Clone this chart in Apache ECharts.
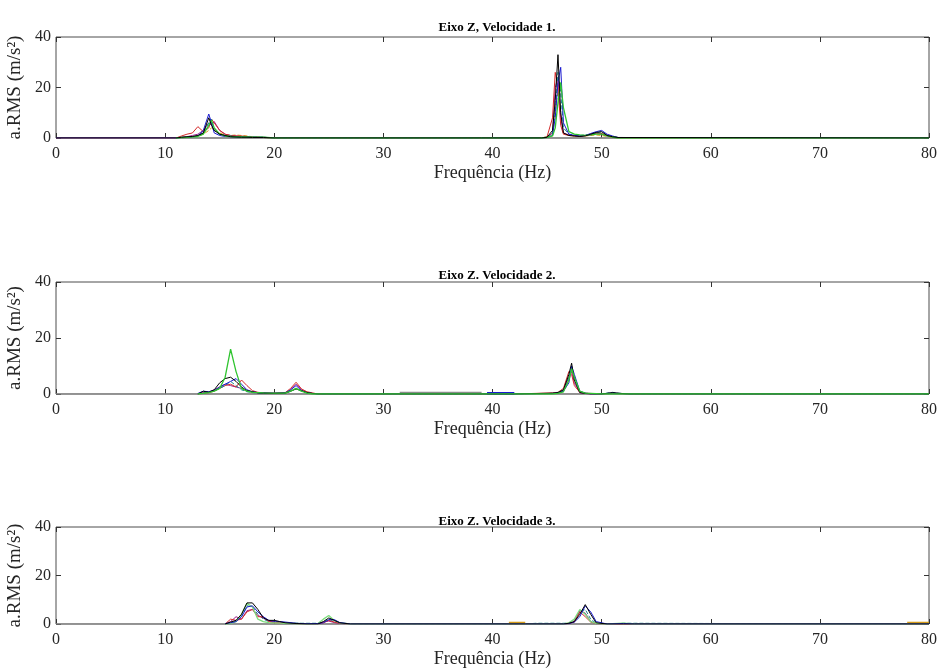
<!DOCTYPE html>
<html><head><meta charset="utf-8">
<script src="https://cdn.jsdelivr.net/npm/echarts@6/dist/echarts.min.js"></script>
<style>html,body{margin:0;padding:0;background:#fff}#c{width:944px;height:671px}</style>
</head><body><div id="c"></div>
<script>
// ---------- titles / tick values ----------
const titles = ["Eixo Z, Velocidade 1.", "Eixo Z. Velocidade 2.", "Eixo Z. Velocidade 3."];
const xTicks = [0, 10, 20, 30, 40, 50, 60, 70, 80];
const yTicks = [0, 20, 40];
const xName = "Frequência (Hz)";
const yName = "a.RMS (m/s²)";
const baseFreq = [0, 80];
const baseVal = [0, 0];

// ---------- panel 1 ----------
const freq1 = [0,11,11.5,12,12.5,13,13.5,14,14.25,14.5,15,15.5,16,16.5,17,17.5,18,19,20,39,40,44.5,45,45.5,45.75,46,46.25,46.5,47,47.5,48,48.5,49,49.5,50,50.5,51,51.5,80];
const black1   = [0,0,0.3,0.5,0.6,1,2,8,5,3,1.5,1,0.5,0.4,0.3,0.3,0.2,0.2,0,0,0,0,0.3,3,15,33,10,2,1,0.8,0.6,0.8,1.5,2.2,2.5,1,0.5,0.2,0];
const blue1    = [0,0,0.2,0.3,0.5,0.8,3,9.5,6,2,1,0.6,0.5,0.4,0.4,0.3,0.3,0.3,0,0,0,0,0.2,1,8,22,28,6,1.5,1,0.8,1,1.8,2.5,3,1.5,0.8,0.2,0];
const red1     = [0,0,0.8,1.5,2,4.5,2.5,4,7.5,6,3,1.5,1,0.8,0.8,0.6,0.4,0.2,0,0,0,0,0.5,8,26,20,5,1.5,1,0.8,0.6,1,1.5,2,1.8,1,0.5,0.2,0];
const magenta1 = [null,0,0.3,0.5,1,1.5,3,6,5,6.5,3,1.5,1,0.8,0.5,0.4,0.3,0.2,0,0,0,0,0.2,2,20,24,8,2,1.2,1,0.8,1,1.2,1.8,1.5,0.8,0.4,0.1,0];
const orange1  = [null,0,0.2,0.3,0.5,0.8,1.5,3,4,3,2,1.2,1,1.2,1,0.8,0.5,0.3,0,0,0,0,0.2,2,12,18,9,2,1,0.8,0.6,0.8,1,1.2,1,0.6,0.3,0,0];
const teal1    = [null,0,0.1,0.3,0.5,0.8,2,6,7.5,3,1.5,1,0.8,0.6,0.5,0.5,0.4,0.3,0,0,0,0,0.2,1.5,10,26,18,4,1.5,1.2,1,1.2,1.5,2,2.5,1.2,0.6,0.2,0];
const green1   = [null,0,0.2,0.3,0.5,0.6,1.5,5,7,4,1.5,0.8,0.6,0.5,0.4,0.4,0.3,0.3,0,0,0,0,0.3,0.8,4,14,22,12,2.5,1.5,1.2,1,1.2,1.5,1.5,0.8,0.4,0,0];

// ---------- panel 2 ----------
const freq2 = [0,13,13.5,14,14.5,15,15.5,16,16.5,17,17.5,18,18.5,19,20,21,21.5,22,22.5,23,23.5,24,31.5,39,39.5,42,45.5,46,46.5,47,47.25,47.5,48,48.5,49,50,51,51.5,52.5,80];
const black2   = [null,0,1,0.6,1.5,4,5.5,6,4.5,2.5,1.2,0.8,0.4,0.3,0.2,0.3,1,1.8,1.2,0.5,0.2,0,0,0,0,0,0.3,0.5,1.5,7,11,5,0.5,0.2,0,0,0.5,0.3,0,0];
const blue2    = [null,0.2,1,0.8,1.2,2.5,3.5,4.5,5.5,3.5,1.5,0.8,0.5,0.4,0.3,0.4,1.5,3,1.2,0.4,0.2,0,0,0,0,0,0.2,0.4,1,4,10,7,1,0.3,0.1,0,0.4,0.2,0,0];
const red2     = [null,0,0.3,0.5,1,2,3,3.5,2.5,5,3,1.2,0.6,0.4,0.3,0.5,2,4.2,1.8,0.8,0.4,0,0,0,0,0,0.4,0.6,2,8,7,3,0.6,0.3,0.2,0,0.3,0.2,0,0];
const magenta2 = [null,0,0.5,0.8,1.5,2.5,3.5,3,2.5,2,1,0.6,0.4,0.3,0.3,0.4,1.5,3.5,1.5,0.5,0.2,0,0,0,0,0,0.2,0.4,1.2,6,8,4,0.5,0.2,0,0,0.2,0.1,0,0];
const teal2    = [null,0,0.5,0.8,1.2,2,3,4.5,3,1.5,0.8,0.5,0.3,0.2,0.2,0.3,1,2,1,0.4,0.1,0,0,0,0,0,0.2,0.5,1.5,6,9.5,6,0.8,0.3,0.1,0,0.6,0.3,0,0];
const green2   = [null,0,0.2,0.5,1,2,6,16,8,2,1,0.6,0.5,0.4,0.3,0.3,1,2,1,0.3,0,0,0,0,0,0,0,0.2,0.8,5,9,6,1,0.3,0.2,0,0,0,0,0];
const grayBandFreq2 = [31.5, 39];
const grayBandVal2  = [0.3, 0.3];
const blueBandFreq2 = [39.5, 42];
const blueBandVal2  = [0.2, 0.2];

// ---------- panel 3 ----------
const freq3 = [0,15.5,16,16.5,17,17.5,18,18.5,19,19.5,20,20.5,21,22,23,24,24.5,25,25.5,26,27,41.5,43,44,46,46.5,47,47.5,48,48.5,49,49.5,50.5,52,53,78,80];
const black3   = [null,0,0.8,1.5,4,8.7,8.7,6,2.5,1.5,1.5,1,0.5,0.2,0,0,1,2.5,1.5,0.5,0,0,0,0,0,0,0.3,1,4,8,4,0.5,0,0,0,0,0];
const blue3    = [null,0.2,0.5,1,3,7,7.5,5,3,1.5,1.2,1,0.8,0.3,0.1,0.2,0.5,1.8,1.8,0.6,0,0,0,0,0,0,0.2,0.8,3,7.5,5,1,0,0.2,0,0,0];
const red3     = [null,0,2,1.5,2,5,6,3,3,1,0.5,0.4,0.3,0.2,0,0.2,0.5,1.5,0.8,0.3,0,0,0,0,0,0,0.3,0.8,5,3,0.8,0.2,0,0,0,0,0];
const magenta3 = [null,0,1,3,2,5.5,6,3.5,2.5,1.2,0.8,0.5,0.3,0.2,0,0.2,0.8,1.2,0.6,0.2,0,0,0,0,0,0,0.2,1,5.5,4.5,1,0.2,0,0,0,0,0];
const teal3    = [null,0,0.5,1,3,7.5,7,4,2,1,1,0.8,0.5,0.3,0.3,0.3,0.8,2,1,0.3,0,0,0,0.3,0.3,0.3,0.3,1.5,5,6,2,0.3,0,0.3,0.3,0,0];
const green3   = [null,0,0.3,1,4,8.5,7,2,1,0.6,0.5,0.4,0.3,0.2,0,0.2,2,3.5,1.5,0.5,0,0,0,0,0,0,0.5,2,6,4,1,0.3,0,0.3,0,0,0];
const orangeBandFreq3a = [41.5, 43];
const orangeBandFreq3b = [78, 80];
const orangeBandVal3   = [0.3, 0.3];

// ---------- styling ----------
const COL = {black:'#000000', blue:'#1a1ad0', red:'#d42a2a', magenta:'#9b1f8f', teal:'#1a8c8c', orange:'#d49a1a', green:'#2fc42f', lgreen:'#7ddc7d', gray:'#8a8a8a'};
const FONT = 'Liberation Serif';
const grids = [{top:37, height:101}, {top:282, height:112}, {top:527, height:97}];

function pairs(freq, vals) {
  const out = [];
  freq.forEach((f, i) => { if (vals[i] !== null && vals[i] !== undefined) out.push([f, vals[i]]); });
  return out;
}

const panels = [
  [
    {f: baseFreq, v: baseVal, c: COL.gray, w: 1.5},
    {f: freq1, v: orange1, c: COL.orange, d: true},
    {f: freq1, v: magenta1, c: COL.magenta},
    {f: freq1, v: red1, c: COL.red},
    {f: freq1, v: teal1, c: COL.teal, d: true},
    {f: freq1, v: blue1, c: COL.blue},
    {f: freq1, v: green1, c: COL.green, w: 1.3},
    {f: freq1, v: black1, c: COL.black}
  ],
  [
    {f: baseFreq, v: baseVal, c: COL.gray, w: 1.5},
    {f: grayBandFreq2, v: grayBandVal2, c: COL.gray, w: 3},
    {f: blueBandFreq2, v: blueBandVal2, c: COL.blue, w: 3},
    {f: freq2, v: magenta2, c: COL.magenta},
    {f: freq2, v: red2, c: COL.red},
    {f: freq2, v: teal2, c: COL.teal, d: true},
    {f: freq2, v: blue2, c: COL.blue},
    {f: freq2, v: black2, c: COL.black},
    {f: freq2, v: green2, c: COL.green, w: 1.3}
  ],
  [
    {f: baseFreq, v: baseVal, c: COL.gray, w: 1.5},
    {f: orangeBandFreq3a, v: orangeBandVal3, c: COL.orange, w: 3},
    {f: orangeBandFreq3b, v: orangeBandVal3, c: COL.orange, w: 3},
    {f: freq3, v: teal3, c: COL.teal, d: true},
    {f: freq3, v: magenta3, c: COL.magenta},
    {f: freq3, v: red3, c: COL.red},
    {f: freq3, v: green3, c: COL.lgreen, w: 1.3},
    {f: freq3, v: blue3, c: COL.blue},
    {f: freq3, v: black3, c: COL.black}
  ]
];

const option = {
  animation: false,
  backgroundColor: '#ffffff',
  title: [], grid: [], xAxis: [], yAxis: [], series: []
};
const titleTops = [16, 264, 510];
grids.forEach((g, i) => {
  option.title.push({text: titles[i], left: 492, textAlign: 'center', top: titleTops[i],
    textStyle: {fontFamily: FONT, fontSize: 13, fontWeight: 'bold', color: '#000'}});
  option.grid.push({left: 56, right: 15, top: g.top, height: g.height, show: true,
    outerBoundsMode: 'none', containLabel: false,
    borderColor: '#4d4d4d', borderWidth: 1, backgroundColor: 'transparent'});
});
const tickStyle = {show: true, inside: true, length: 5, lineStyle: {color: '#333', width: 1}};
const noLine = {show: false, onZero: false};
// bottom / left main axes
grids.forEach((g, i) => {
  option.xAxis.push({type: 'value', gridIndex: i, min: xTicks[0], max: xTicks[xTicks.length-1], interval: xTicks[1]-xTicks[0],
    position: 'bottom', name: xName, nameLocation: 'middle', nameGap: 26,
    nameTextStyle: {fontFamily: FONT, fontSize: 18, color: '#262626'},
    axisLine: noLine, axisTick: tickStyle, splitLine: {show: false},
    axisLabel: {fontFamily: FONT, fontSize: 16, color: '#262626', margin: 8}});
  option.yAxis.push({type: 'value', gridIndex: i, min: yTicks[0], max: yTicks[yTicks.length-1], interval: yTicks[1]-yTicks[0],
    position: 'left', name: yName, nameLocation: 'middle', nameGap: 25, nameRotate: 90,
    nameTextStyle: {fontFamily: FONT, fontSize: 19, color: '#262626'},
    axisLine: noLine, axisTick: tickStyle, splitLine: {show: false},
    axisLabel: {fontFamily: FONT, fontSize: 16, color: '#262626', margin: 5}});
});
// top / right mirror axes for ticks only
grids.forEach((g, i) => {
  option.xAxis.push({type: 'value', gridIndex: i, min: xTicks[0], max: xTicks[xTicks.length-1], interval: xTicks[1]-xTicks[0],
    position: 'top', axisLine: noLine, axisTick: tickStyle, splitLine: {show: false}, axisLabel: {show: false}});
  option.yAxis.push({type: 'value', gridIndex: i, min: yTicks[0], max: yTicks[yTicks.length-1], interval: yTicks[1]-yTicks[0],
    position: 'right', axisLine: noLine, axisTick: tickStyle, splitLine: {show: false}, axisLabel: {show: false}});
});
panels.forEach((list, i) => {
  list.forEach(s => {
    option.series.push({type: 'line', xAxisIndex: i, yAxisIndex: i, showSymbol: false, symbol: 'none',
      data: pairs(s.f, s.v), silent: true,
      lineStyle: {color: s.c, width: s.w || 1, type: s.d ? [4, 2] : 'solid'}});
  });
});

const chart = echarts.init(document.getElementById('c'), null, {renderer: 'canvas'});
chart.setOption(option);
</script>
</body></html>
